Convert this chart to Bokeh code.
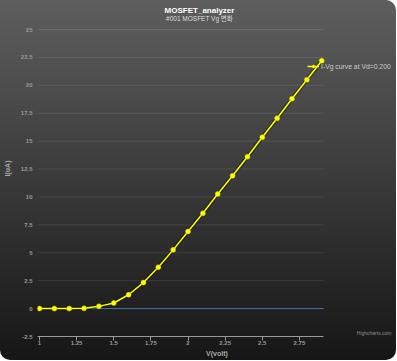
from bokeh.plotting import figure
from bokeh.models import Label, Legend, LegendItem, FixedTicker, Range1d
from bokeh.embed import file_html
from bokeh.resources import INLINE

# ---- data ----
title_text = "MOSFET_analyzer"
subtitle_text = "#001 MOSFET Vg 변화"
series_name = "I-Vg curve at Vd=0.200"
x_title = "V(volt)"
y_title = "I(uA)"
credit_text = "Highcharts.com"

vg = [1.0, 1.1, 1.2, 1.3, 1.4, 1.5, 1.6, 1.7, 1.8, 1.9,
      2.0, 2.1, 2.2, 2.3, 2.4, 2.5, 2.6, 2.7, 2.8, 2.9]
current = [0.0, 0.0, 0.0, 0.02, 0.2, 0.5, 1.24, 2.33, 3.7, 5.26,
           6.9, 8.54, 10.26, 11.9, 13.6, 15.35, 17.05, 18.8, 20.5, 22.2]

x_ticks = [1.0, 1.25, 1.5, 1.75, 2.0, 2.25, 2.5, 2.75]
x_tick_labels = ["1", "1.25", "1.5", "1.75", "2", "2.25", "2.5", "2.75"]
y_ticks = [-2.5, 0, 2.5, 5, 7.5, 10, 12.5, 15, 17.5, 20, 22.5, 25]
y_tick_labels = ["-2.5", "0", "2.5", "5", "7.5", "10", "12.5", "15", "17.5", "20", "22.5", "25"]
plot_line_value = 0

# axis extents (the frame is wider/taller so that texts drawn in it are not clipped)
x_min, x_max = 0.9866, 2.9134
y_min, y_max = -2.5, 25
W, H = 396, 360
LEFT, BOTTOM, TOP_PAD = 36, 24, 29
px_per_x = 283 / 1.9
px_per_y = (H - BOTTOM - TOP_PAD) / (y_max - y_min)

FONT = "Liberation Sans, Noto Sans CJK KR"

p = figure(width=W, height=H, output_backend="svg", toolbar_location=None,
           x_range=Range1d(x_min, x_min + (W - LEFT) / px_per_x),
           y_range=Range1d(y_min, y_max + TOP_PAD / px_per_y),
           min_border_left=LEFT, min_border_right=0, min_border_top=0, min_border_bottom=BOTTOM,
           border_fill_color=None, background_fill_color=None, outline_line_color=None,
           styles={"background": "linear-gradient(to bottom, rgb(94,94,94) 0%, rgb(22,22,22) 100%)",
                   "border-radius": "0px 10px 10px 10px"})

# grid lines (drawn only over the axis extent)
p.xgrid.grid_line_color = None
p.ygrid.grid_line_color = None
grid_y = [t for t in y_ticks if t > y_min]
p.segment(x0=[x_min] * len(grid_y), x1=[x_max] * len(grid_y), y0=grid_y, y1=grid_y,
          line_color="white", line_alpha=0.1, line_width=1)

# x axis
xa = p.xaxis[0]
xa.bounds = (x_min, x_max)
xa.ticker = FixedTicker(ticks=x_ticks)
xa.major_label_overrides = {t: s for t, s in zip(x_ticks, x_tick_labels)}
xa.axis_line_color = "#999999"
xa.major_tick_line_color = "#999999"
xa.major_tick_out = 4
xa.major_tick_in = 0
xa.minor_tick_line_color = None
xa.major_label_text_color = "#999999"
xa.major_label_text_font = FONT
xa.major_label_text_font_size = "6px"
xa.major_label_text_font_style = "bold"
xa.major_label_standoff = 0
xa.axis_label = x_title
xa.axis_label_text_color = "#AAAAAA"
xa.axis_label_text_font = FONT
xa.axis_label_text_font_size = "7px"
xa.axis_label_text_font_style = "bold"
xa.axis_label_standoff = 2

# y axis
ya = p.yaxis[0]
ya.bounds = (y_min, y_max)
ya.ticker = FixedTicker(ticks=y_ticks)
ya.major_label_overrides = {t: s for t, s in zip(y_ticks, y_tick_labels)}
ya.axis_line_color = None
ya.major_tick_line_color = None
ya.minor_tick_line_color = None
ya.major_tick_out = 0
ya.major_tick_in = 0
ya.major_label_text_color = "#999999"
ya.major_label_text_font = FONT
ya.major_label_text_font_size = "6px"
ya.major_label_text_font_style = "bold"
ya.major_label_standoff = 5
ya.axis_label = y_title
ya.axis_label_text_color = "#AAAAAA"
ya.axis_label_text_font = FONT
ya.axis_label_text_font_size = "7px"
ya.axis_label_text_font_style = "bold"
ya.axis_label_standoff = 7

# zero plot line
p.segment(x0=[x_min], x1=[x_max], y0=[plot_line_value], y1=[plot_line_value],
          line_color="#4572A7", line_width=1)

# series with shadow
p.line(vg, current, line_color="black", line_alpha=0.3, line_width=4)
r_line = p.line(vg, current, line_color="#ffff00", line_width=1.5)
r_pts = p.scatter(vg, current, size=5, fill_color="#ffff00", line_color="#c8c800", line_width=0.5)

legend = Legend(items=[LegendItem(label=series_name, renderers=[r_line, r_pts])],
                location=(270, 266), orientation="vertical",
                background_fill_alpha=0, border_line_color=None,
                label_text_color="#CCCCCC", label_text_font=FONT, label_text_font_size="6.8px",
                glyph_width=12, glyph_height=8, label_height=8, label_standoff=2,
                padding=0, margin=0, spacing=0)
p.add_layout(legend, "center")

# titles and credit (screen units relative to the plot frame)
p.add_layout(Label(x=162, y=326, x_units="screen", y_units="screen", text=title_text,
                   text_align="center", text_baseline="middle", text_color="#FFFFFF",
                   text_font=FONT, text_font_size="8px", text_font_style="bold"))
p.add_layout(Label(x=162, y=318, x_units="screen", y_units="screen", text=subtitle_text,
                   text_align="center", text_baseline="middle", text_color="#DDDDDD",
                   text_font=FONT, text_font_size="6.5px"))
p.add_layout(Label(x=354, y=4, x_units="screen", y_units="screen", text=credit_text,
                   text_align="right", text_baseline="middle", text_color="#909090",
                   text_font=FONT, text_font_size="5px"))

open("out.html", "w").write(file_html(p, INLINE))
